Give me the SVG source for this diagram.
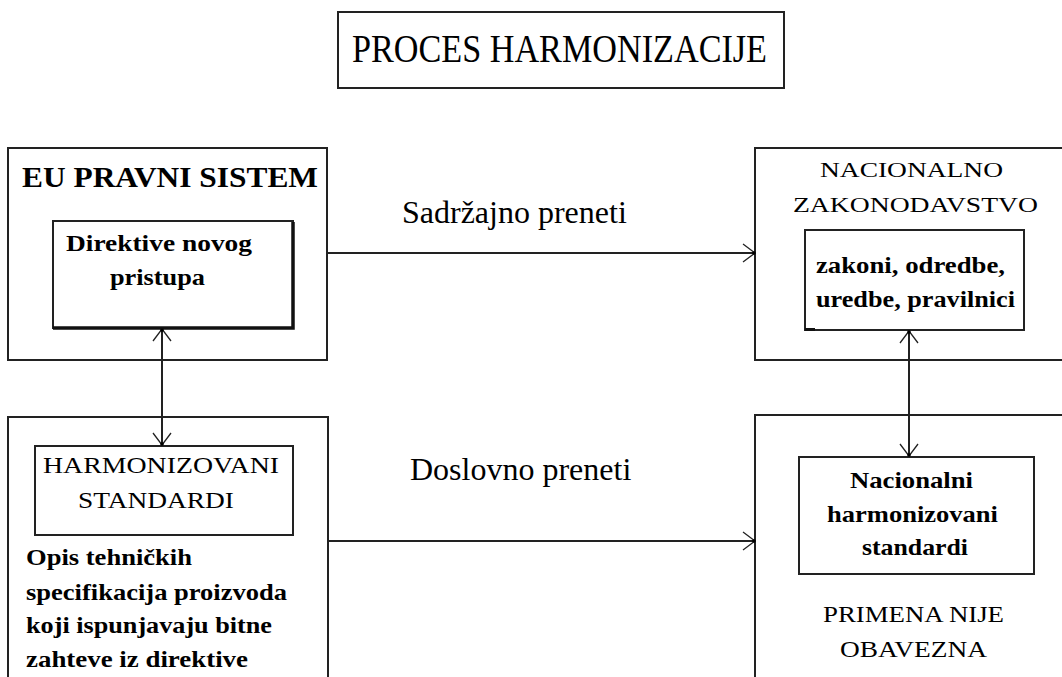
<svg xmlns="http://www.w3.org/2000/svg" width="1062" height="677" viewBox="0 0 1062 677">
<style>
.box{fill:none;stroke:#222;stroke-width:2}
.inner{fill:#fff;stroke:#222;stroke-width:2}
.conn{fill:none;stroke:#222;stroke-width:2}
.t{font-family:"Liberation Serif","Times New Roman",serif;fill:#000}
.b{font-weight:bold}
.lbl{font-family:"Liberation Serif","Times New Roman",serif;font-size:32px;fill:#000}
</style>
<defs>
<marker id="arr" viewBox="0 0 14 20" markerUnits="userSpaceOnUse" markerWidth="14" markerHeight="20" refX="13" refY="10" orient="auto-start-reverse">
<path d="M1,1 L13,10 L1,19" fill="none" stroke="#222" stroke-width="1.3"/>
<circle cx="12" cy="10" r="1.8" fill="#000"/>
</marker>
</defs>
<rect width="1062" height="677" fill="#fff"/>

<g id="title">
<rect x="338" y="12" width="446" height="76" class="box"/>
<text x="352" y="62" class="t" font-size="39" textLength="415" lengthAdjust="spacingAndGlyphs">PROCES HARMONIZACIJE</text>
</g>

<g id="eu-pravni-sistem">
<rect x="8" y="148" width="319" height="212" class="box"/>
<text x="22" y="187" class="t b" font-size="29" textLength="296" lengthAdjust="spacingAndGlyphs">EU PRAVNI SISTEM</text>
</g>

<g id="direktive">
<rect x="53" y="221" width="240" height="107" class="inner" stroke-width="1.5"/>
<path d="M293,222 L293,328 L53,328" fill="none" stroke="#111" stroke-width="3.5"/>
<text x="66" y="251" class="t b" font-size="24" textLength="186" lengthAdjust="spacingAndGlyphs">Direktive novog</text>
<text x="110" y="285" class="t b" font-size="24" textLength="95" lengthAdjust="spacingAndGlyphs">pristupa</text>
</g>

<g id="harmonizovani-blok">
<rect x="8" y="417" width="320" height="280" class="box"/>
<text x="26" y="565" class="t b" font-size="24" textLength="166" lengthAdjust="spacingAndGlyphs">Opis tehničkih</text>
<text x="26" y="600" class="t b" font-size="24" textLength="261" lengthAdjust="spacingAndGlyphs">specifikacija proizvoda</text>
<text x="26" y="633" class="t b" font-size="24" textLength="246" lengthAdjust="spacingAndGlyphs">koji ispunjavaju bitne</text>
<text x="26" y="667" class="t b" font-size="24" textLength="222" lengthAdjust="spacingAndGlyphs">zahteve iz direktive</text>
</g>

<g id="harmonizovani-standardi">
<rect x="35" y="446" width="258" height="89" class="inner"/>
<text x="43" y="473" class="t" font-size="23" textLength="236" lengthAdjust="spacingAndGlyphs">HARMONIZOVANI</text>
<text x="78" y="508" class="t" font-size="23" textLength="156" lengthAdjust="spacingAndGlyphs">STANDARDI</text>
</g>

<g id="nacionalno-zakonodavstvo">
<rect x="755" y="148" width="320" height="212" class="box"/>
<text x="820" y="177" class="t" font-size="22" textLength="183" lengthAdjust="spacingAndGlyphs">NACIONALNO</text>
<text x="793" y="212" class="t" font-size="22" textLength="245" lengthAdjust="spacingAndGlyphs">ZAKONODAVSTVO</text>
</g>

<g id="zakoni">
<rect x="805" y="230" width="219" height="100" class="inner"/>
<rect x="805" y="328" width="10" height="3" fill="#111"/>
<text x="816" y="273" class="t b" font-size="24" textLength="189" lengthAdjust="spacingAndGlyphs">zakoni, odredbe,</text>
<text x="816" y="307" class="t b" font-size="24" textLength="199" lengthAdjust="spacingAndGlyphs">uredbe, pravilnici</text>
</g>

<g id="nacionalni-blok">
<rect x="755" y="415" width="320" height="280" class="box"/>
<text x="823" y="622" class="t" font-size="23" textLength="181" lengthAdjust="spacingAndGlyphs">PRIMENA NIJE</text>
<text x="840" y="657" class="t" font-size="23" textLength="147" lengthAdjust="spacingAndGlyphs">OBAVEZNA</text>
</g>

<g id="nacionalni-harmonizovani-standardi">
<rect x="799" y="457" width="235" height="117" class="inner"/>
<text x="850" y="488" class="t b" font-size="24" textLength="123" lengthAdjust="spacingAndGlyphs">Nacionalni</text>
<text x="827" y="522" class="t b" font-size="24" textLength="171" lengthAdjust="spacingAndGlyphs">harmonizovani</text>
<text x="862" y="555" class="t b" font-size="24" textLength="106" lengthAdjust="spacingAndGlyphs">standardi</text>
</g>

<g id="connectors">
<line x1="327" y1="253" x2="755" y2="253" class="conn" marker-end="url(#arr)"/>
<line x1="328" y1="541" x2="755" y2="541" class="conn" marker-end="url(#arr)"/>
<line x1="162" y1="329" x2="162" y2="445" class="conn" marker-start="url(#arr)" marker-end="url(#arr)"/>
<line x1="909" y1="331" x2="909" y2="456" class="conn" marker-start="url(#arr)" marker-end="url(#arr)"/>
<text x="402" y="223" class="lbl">Sadržajno preneti</text>
<text x="410" y="480" class="lbl">Doslovno preneti</text>
</g>
</svg>
